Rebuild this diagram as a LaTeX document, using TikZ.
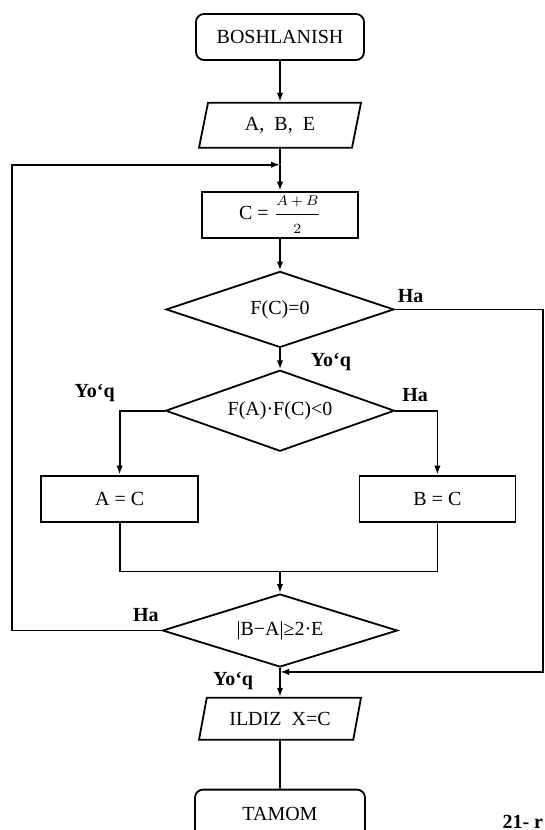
\documentclass[tikz,border=0pt]{standalone}
\usepackage{amsmath}
\usepackage{fontspec}
\setmainfont{Liberation Serif}
\usetikzlibrary{positioning,shapes.geometric,arrows.meta,calc}

\begin{document}
\begin{tikzpicture}[>={Latex[length=4.5pt,width=3.2pt]}, line width=0.9pt,
    terminal/.style={rectangle, rounded corners=4pt, draw, minimum width=84pt, minimum height=23pt},
    io/.style={trapezium, trapezium left angle=66, trapezium right angle=114, trapezium stretches body,
        draw, minimum width=81pt, minimum height=22.5pt, inner sep=1pt},
    process/.style={rectangle, draw, minimum width=78pt, minimum height=23pt},
    decision/.style={diamond, draw, inner sep=0pt, aspect=3},
    answer/.style={font=\bfseries, inner sep=1pt}
    ]
    \useasboundingbox (0,0) rectangle (272.5pt,-415pt);

    % the main column
    \node[terminal] (start) at (140pt,-18.5pt) {BOSHLANISH};
    \node[io, below=20.5pt of start] (input) {A,\ \ B,\ \ E};
    \node[process, inner sep=1pt, below=21pt of input] (calc) {C = $\dfrac{\scriptstyle A\,+\,B}{\scriptstyle 2}$};
    \node[decision, minimum width=114pt, minimum height=38pt, below=16pt of calc] (test0) {F(C)=0};
    \node[decision, minimum width=114.5pt, minimum height=40.5pt, below=10.5pt of test0] (sign) {F(A)·F(C)<0};
    \node[process, minimum width=78.5pt, below=32pt of sign.west, xshift=-22.5pt] (setA) {A = C};
    \node[process, below=32pt of sign.east, xshift=21pt] (setB) {B = C};
    \node[decision, minimum width=117.5pt, minimum height=36.5pt, below=70.5pt of sign] (check) {|B−A|≥2·E};
    \node[io, minimum height=21pt, below=14.5pt of check] (output) {ILDIZ\ \ X=C};
    \node[terminal, minimum width=85pt, minimum height=24pt, below=24pt of output] (stop) {TAMOM};

    % points where lines meet
    \coordinate[below=8pt of input.south] (join);
    \coordinate[below=2pt of check.south] (ret);
    \coordinate[below=24.5pt of setA.south] (merge);
    \coordinate (leftedge) at (6pt,0);
    \coordinate (rightedge) at (271.5pt,0);

    \foreach \from/\to in {start/input, join/calc, calc/test0, test0/sign, ret/output}
        \draw[->] (\from) -- (\to);
    \draw (input) -- (join);
    \draw (check) -- (ret);
    \draw (output) -- (stop);

    % branches
    \draw[->] (sign.west) -| node[answer, pos=0.5, above left=3pt and 1pt] {Yo‘q} (setA);
    \draw[->] (sign.east) node[answer, above right=3pt and 2pt] {Ha} -| (setB);
    \draw (setA) |- (merge) -| (setB);
    \draw[->] (merge -| check) -- (check);

    % back to the top, and the way out
    \draw[->] (check.west) node[answer, above left=3pt and 0pt] {Ha} -- (check.west -| leftedge) |- (join);
    \draw[->] (test0.east) node[answer, above right=2pt and 0pt] {Ha} -- (test0.east -| rightedge) |- (ret);
    \node[answer, anchor=north west, xshift=14pt, yshift=-1pt] at (test0.south) {Yo‘q};
    \node[answer, anchor=east, xshift=-12pt, yshift=-4.5pt] at (ret) {Yo‘q};

    \node[anchor=south east, font=\bfseries, inner sep=0pt] (fig) at (272pt,-414.5pt) {21- r};
\end{tikzpicture}
\end{document}
